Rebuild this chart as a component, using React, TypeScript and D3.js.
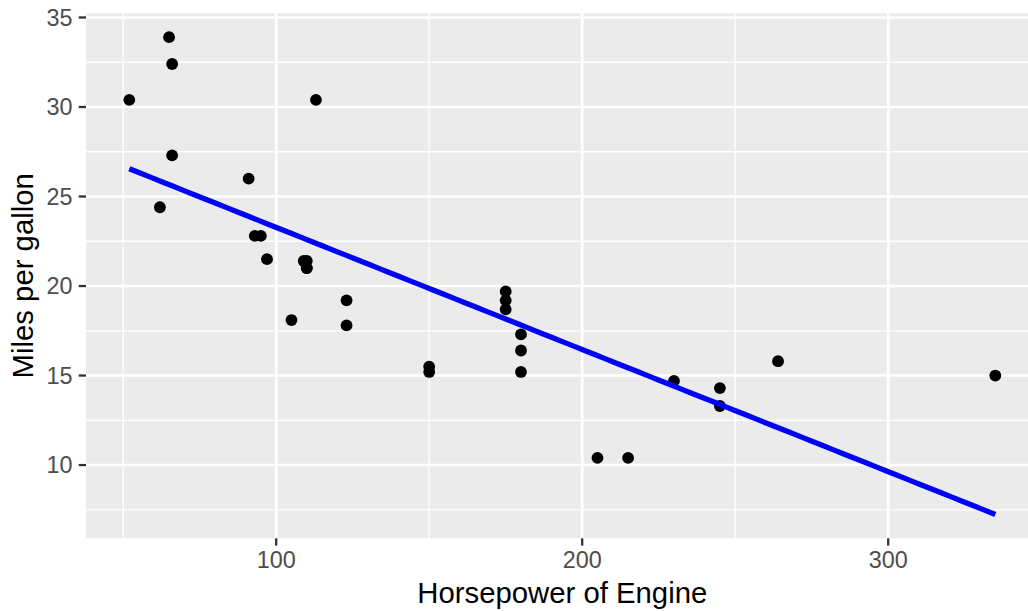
import React from "react";
import * as d3 from "d3";

const horsepower = [110, 110, 93, 110, 175, 105, 245, 62, 95, 123, 123, 180, 180, 180, 205, 215, 230, 66, 52, 65, 97, 150, 150, 245, 175, 66, 91, 113, 264, 175, 335, 109];
const mpg = [21.0, 21.0, 22.8, 21.4, 18.7, 18.1, 14.3, 24.4, 22.8, 19.2, 17.8, 16.4, 17.3, 15.2, 10.4, 10.4, 14.7, 32.4, 30.4, 33.9, 21.5, 15.5, 15.2, 13.3, 19.2, 27.3, 26.0, 30.4, 15.8, 19.7, 15.0, 21.4];
const xTicks = [100, 200, 300];
const xMinor = [50, 150, 250];
const yTicks = [10, 15, 20, 25, 30, 35];
const yMinor = [7.5, 12.5, 17.5, 22.5, 27.5, 32.5];
const xTitle = "Horsepower of Engine";
const yTitle = "Miles per gallon";

const W = 1028;
const H = 611;
const panel = { left: 86, right: 1038.6, top: 13.3, bottom: 538.3 };

export default function App() {
  const n = horsepower.length;
  const mx = d3.mean(horsepower) as number;
  const my = d3.mean(mpg) as number;
  let sxy = 0, sxx = 0;
  for (let i = 0; i < n; i++) {
    sxy += (horsepower[i] - mx) * (mpg[i] - my);
    sxx += (horsepower[i] - mx) ** 2;
  }
  const slope = sxy / sxx;
  const intercept = my - slope * mx;
  const [xmin, xmax] = d3.extent(horsepower) as [number, number];
  const lineX = d3.range(0, 81).map((i) => xmin + ((xmax - xmin) * i) / 80);
  const lineY = lineX.map((x) => intercept + slope * x);

  const xr = xmax - xmin;
  const allY = mpg.concat(lineY);
  const ymin = d3.min(allY) as number;
  const ymax = d3.max(allY) as number;
  const yr = ymax - ymin;

  const x = d3.scaleLinear().domain([xmin - 0.05 * xr, xmax + 0.05 * xr]).range([panel.left, panel.right]);
  const y = d3.scaleLinear().domain([ymin - 0.05 * yr, ymax + 0.05 * yr]).range([panel.bottom, panel.top]);

  const linePath = d3.line<number>().x((d) => x(d)).y((_, i) => y(lineY[i]))(lineX) || "";

  const font = "'Liberation Sans', Arial, Helvetica, sans-serif";

  return (
    <svg width={W} height={H} style={{ position: "fixed", left: 0, top: 0, display: "block" }} fontFamily={font}>
      <rect x={0} y={0} width={W} height={H} fill="#ffffff" />
      <rect x={panel.left} y={panel.top} width={panel.right - panel.left} height={panel.bottom - panel.top} fill="#EBEBEB" />
      {yMinor.map((v) => (
        <line key={"ym" + v} x1={panel.left} x2={panel.right} y1={y(v)} y2={y(v)} stroke="#fff" strokeWidth={1.3} />
      ))}
      {xMinor.map((v) => (
        <line key={"xm" + v} x1={x(v)} x2={x(v)} y1={panel.top} y2={panel.bottom} stroke="#fff" strokeWidth={1.3} />
      ))}
      {yTicks.map((v) => (
        <line key={"yM" + v} x1={panel.left} x2={panel.right} y1={y(v)} y2={y(v)} stroke="#fff" strokeWidth={2.6} />
      ))}
      {xTicks.map((v) => (
        <line key={"xM" + v} x1={x(v)} x2={x(v)} y1={panel.top} y2={panel.bottom} stroke="#fff" strokeWidth={2.6} />
      ))}
      {horsepower.map((h, i) => (
        <circle key={"p" + i} cx={x(h)} cy={y(mpg[i])} r={5.9} fill="#000" />
      ))}
      <path d={linePath} fill="none" stroke="#0000FF" strokeWidth={5.3} />
      {yTicks.map((v) => (
        <g key={"yt" + v}>
          <line x1={panel.left - 7.3} x2={panel.left} y1={y(v)} y2={y(v)} stroke="#333333" strokeWidth={2.3} />
          <text x={panel.left - 13.5} y={y(v)} dy="0.36em" textAnchor="end" fontSize={23.4} fill="#4D4D4D">
            {v}
          </text>
        </g>
      ))}
      {xTicks.map((v) => (
        <g key={"xt" + v}>
          <line x1={x(v)} x2={x(v)} y1={panel.bottom} y2={panel.bottom + 7.3} stroke="#333333" strokeWidth={2.3} />
          <text x={x(v)} y={568} textAnchor="middle" fontSize={23.4} fill="#4D4D4D">
            {v}
          </text>
        </g>
      ))}
      <text x={(panel.left + panel.right) / 2} y={603} textAnchor="middle" fontSize={29.3} fill="#000">
        {xTitle}
      </text>
      <text
        transform={`translate(33,${(panel.top + panel.bottom) / 2}) rotate(-90)`}
        textAnchor="middle"
        fontSize={29.3}
        fill="#000"
      >
        {yTitle}
      </text>
    </svg>
  );
}
